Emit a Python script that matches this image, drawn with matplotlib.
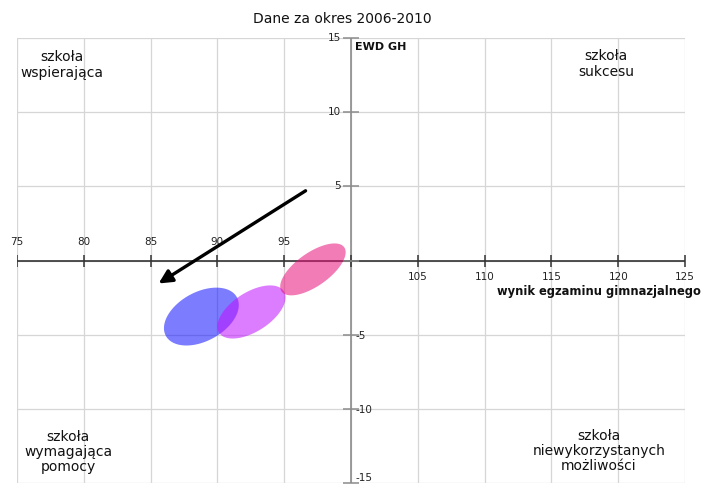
import numpy as np
import matplotlib
matplotlib.use("Agg")
import matplotlib.pyplot as plt

plt.rcParams['font.family'] = ['DejaVu Sans']

# ---- data ----
x_ticks = [75, 80, 85, 90, 95, 100, 105, 110, 115, 120, 125]
y_ticks = [-15, -10, -5, 0, 5, 10, 15]
x_labels_above = [75, 80, 85, 90, 95]
x_labels_below = [105, 110, 115, 120, 125]
y_labels_left = [15, 10, 5]
y_labels_right = [-5, -10, -15]

ell_cx = [88.8, 92.55, 97.15]
ell_cy = [-3.78, -3.47, -0.6]
ell_hx = [2.8, 2.55, 2.45]
ell_hy = [1.95, 1.79, 1.75]
ell_rho = [0.4, 0.55, 0.66]
ell_colors = ['#1010ff', '#c010ff', '#e8107a']

arrow_start = (96.6, 4.7)
arrow_end = (85.6, -1.55)

title = "Dane za okres 2006-2010"
quad_labels = ["szkoła\nwspierająca", "szkoła\nsukcesu",
               "szkoła\nwymagająca\npomocy", "szkoła\nniewykorzystanych\nmożliwości"]
y_axis_name = "EWD GH"
x_axis_name = "wynik egzaminu gimnazjalnego"

# ---- figure ----
W, H = 702, 486
fig = plt.figure(figsize=(W / 100, H / 100), dpi=100)
left, right, top, bottom = 17, 685, 38, 483
ax = fig.add_axes([left / W, 1 - bottom / H, (right - left) / W, (bottom - top) / H])
ax.set_xlim(75, 125)
ax.set_ylim(-15, 15)
for s in ax.spines.values():
    s.set_visible(False)
ax.set_xticks(x_ticks)
ax.set_yticks(y_ticks)
ax.tick_params(length=0, labelbottom=False, labelleft=False)
ax.grid(True, color='#d6d6d6', lw=0.9)
ax.set_axisbelow(True)

# axes through origin
ax.axhline(0, color='#333333', lw=1.2, zorder=2)
ax.axvline(100, color='#8c8c8c', lw=1.2, zorder=2)
ax.plot(x_ticks, [0] * len(x_ticks), ls='none', marker='|', ms=9, mew=1.1, color='#333333', zorder=2)
ax.plot([100] * len(y_ticks), y_ticks, ls='none', marker='_', ms=12, mew=1.1, color='#8c8c8c', zorder=2,
        clip_on=False)

# tick labels
tk = dict(fontsize=7.5, color='#222222', annotation_clip=False)
for v in x_labels_above:
    ax.annotate(str(v), (v, 0), xytext=(0, 10), textcoords='offset points', ha='center', va='bottom', **tk)
for v in x_labels_below:
    ax.annotate(str(v), (v, 0), xytext=(0, -8), textcoords='offset points', ha='center', va='top', **tk)
for v in y_labels_left:
    ax.annotate(str(v), (100, v), xytext=(-7, 0), textcoords='offset points', ha='right', va='center', **tk)
for v in y_labels_right:
    ax.annotate(str(v), (100, v), xytext=(3, 0), textcoords='offset points', ha='left', va='center_baseline'
                if v != y_labels_right[-1] else 'bottom', **tk)

# ellipses
t = np.linspace(0, 2 * np.pi, 200)
for cx, cy, hx, hy, r, c in zip(ell_cx, ell_cy, ell_hx, ell_hy, ell_rho, ell_colors):
    ex = cx + hx * np.cos(t)
    ey = cy + hy * (r * np.cos(t) + np.sqrt(1 - r * r) * np.sin(t))
    ax.fill(ex, ey, color=c, alpha=0.55, lw=0, zorder=3)

# arrow
ax.annotate('', xy=arrow_end, xytext=arrow_start,
            arrowprops=dict(arrowstyle='-|>', lw=2.4, color='black', mutation_scale=20,
                            shrinkA=0, shrinkB=0), zorder=4)

# texts
fig.text(342 / W, 1 - 19 / H, title, ha='center', va='center', fontsize=10, color='#111111')
ax.annotate(y_axis_name, (100, 15), xytext=(3, -3), textcoords='offset points', ha='left', va='top',
            fontsize=8, fontweight='bold', color='#111111', annotation_clip=False)
fig.text(701 / W, 1 - 291 / H, x_axis_name, ha='right', va='center', fontsize=8.3,
         fontweight='bold', color='#111111')

qpos = [(62, 65), (606, 64), (68, 452), (599, 451)]
for (px, py), lab in zip(qpos, quad_labels):
    fig.text(px / W, 1 - py / H, lab, ha='center', va='center', fontsize=10, color='#111111',
             linespacing=1.12)

fig.savefig('out.png', dpi=100)
